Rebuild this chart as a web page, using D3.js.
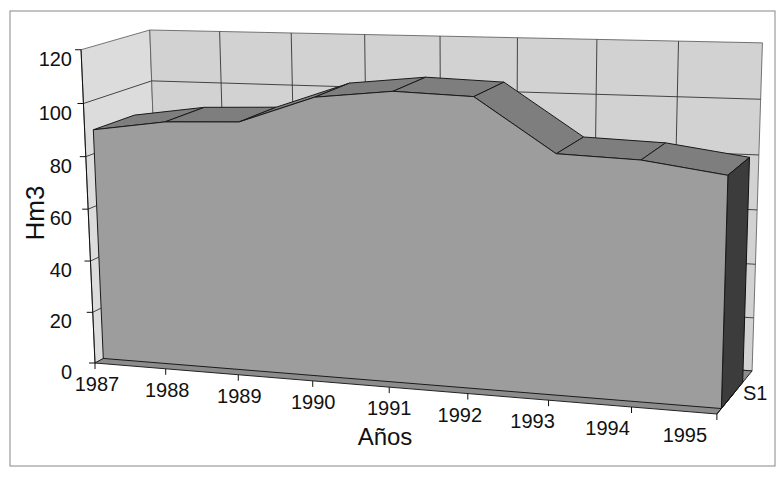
<!DOCTYPE html>
<html>
<head>
<meta charset="utf-8">
<script src="https://cdn.jsdelivr.net/npm/d3@7"></script>
<style>
  body { margin: 0; background: #fff; }
  text { font-family: "Liberation Sans", Arial, sans-serif; fill: #111; }
</style>
</head>
<body>
<script>
// chart data
var years = ["1987", "1988", "1989", "1990", "1991", "1992", "1993", "1994", "1995"];
var s1 = [89, 93, 94, 104, 107, 106, 87, 86, 82];
var valueTicks = [0, 20, 40, 60, 80, 100, 120];
var seriesName = "S1";

var width = 778, height = 477;

var svg = d3.select("body").append("svg")
  .attr("width", width)
  .attr("height", height);

// scales: category -> u (0..1), value -> v (0..1)
var x = d3.scalePoint().domain(years).range([0, 1]);
var y = d3.scaleLinear().domain([0, 120]).range([0, 1]);

// perspective: origin + vanishing points of the three box directions
var O = [95, 363], VX = [-5380, -86], VY = [480, 9000], VZ = [1300, -300];
var A = -0.102, B = -0.035, C = 0.0577;
function project(u, v, w) {
  var d = 1 + A * u + B * v + C * w;
  return [
    (O[0] + A * u * VX[0] + B * v * VY[0] + C * w * VZ[0]) / d,
    (O[1] + A * u * VX[1] + B * v * VY[1] + C * w * VZ[1]) / d
  ];
}
var poly = function(pts) { return d3.line()(pts) + "Z"; };

// series depth slot
var z0 = 0.12, z1 = 0.72;

// frame
svg.append("rect")
  .attr("x", 10).attr("y", 11)
  .attr("width", 765).attr("height", 455)
  .attr("fill", "none")
  .attr("stroke", "#888")
  .attr("stroke-width", 1);

// walls
svg.append("path")
  .attr("d", poly([project(0, 0, 0), project(0, 1, 0), project(0, 1, 1), project(0, 0, 1)]))
  .attr("fill", "#dcdcdc").attr("stroke", "#555").attr("stroke-width", 0.8);
svg.append("path")
  .attr("d", poly([project(0, 0, 1), project(0, 1, 1), project(1, 1, 1), project(1, 0, 1)]))
  .attr("fill", "#d2d2d2").attr("stroke", "#555").attr("stroke-width", 0.8);

// gridlines
var grid = svg.append("g").attr("stroke", "#333").attr("stroke-width", 0.9).attr("fill", "none");
valueTicks.slice(1, -1).forEach(function(t) {
  grid.append("path").attr("d", d3.line()([project(0, y(t), 0), project(0, y(t), 1), project(1, y(t), 1)]));
});
years.slice(1, -1).forEach(function(yr) {
  grid.append("path").attr("d", d3.line()([project(x(yr), 0, 1), project(x(yr), 1, 1)]));
});

// floor
svg.append("path")
  .attr("d", poly([project(0, 0, 0), project(1, 0, 0), project(1, 0, 1), project(0, 0, 1)]))
  .attr("fill", "#8c8c8c").attr("stroke", "#222").attr("stroke-width", 1);

// top surface of the area, left to right
var topG = svg.append("g");
for (var i = 0; i < years.length - 1; i++) {
  var ua = x(years[i]), ub = x(years[i + 1]);
  var va = y(s1[i]), vb = y(s1[i + 1]);
  topG.append("path")
    .attr("d", poly([project(ua, va, z0), project(ub, vb, z0), project(ub, vb, z1), project(ua, va, z1)]))
    .attr("fill", "#7e7e7e").attr("stroke", "#1a1a1a").attr("stroke-width", 1);
}

// right side of the area
var last = years.length - 1;
svg.append("path")
  .attr("d", poly([project(1, 0, z0), project(1, y(s1[last]), z0), project(1, y(s1[last]), z1), project(1, 0, z1)]))
  .attr("fill", "#3c3c3c").attr("stroke", "#111").attr("stroke-width", 1);

// front face
var front = [project(0, 0, z0)];
years.forEach(function(yr, k) { front.push(project(x(yr), y(s1[k]), z0)); });
front.push(project(1, 0, z0));
svg.append("path")
  .attr("d", poly(front))
  .attr("fill", "#9d9d9d").attr("stroke", "#1a1a1a").attr("stroke-width", 1);

// value axis
var axisG = svg.append("g");
axisG.append("path")
  .attr("d", d3.line()([project(0, 0, 0), project(0, 1, 0)]))
  .attr("stroke", "#111").attr("fill", "none");
valueTicks.forEach(function(t) {
  var p = project(0, y(t), 0);
  axisG.append("line")
    .attr("x1", p[0] - 6).attr("x2", p[0]).attr("y1", p[1]).attr("y2", p[1])
    .attr("stroke", "#111");
  axisG.append("text")
    .attr("x", 72).attr("y", p[1] + 16)
    .attr("text-anchor", "end")
    .attr("font-size", 20)
    .text(t);
});

// category axis
var labelShift = d3.scaleLinear().domain([0, 0.5, 1]).range([2, 0, -32]);
years.forEach(function(yr) {
  var p = project(x(yr), 0, 0);
  axisG.append("line")
    .attr("x1", p[0]).attr("x2", p[0]).attr("y1", p[1]).attr("y2", p[1] + 6)
    .attr("stroke", "#111");
  axisG.append("text")
    .attr("x", p[0] + labelShift(x(yr))).attr("y", p[1] + 28)
    .attr("text-anchor", "middle")
    .attr("font-size", 20)
    .text(yr);
});

// depth axis with series name
var d0 = project(1, 0, 0), d1 = project(1, 0, 0.5);
axisG.append("path").attr("d", d3.line()([d0, d1])).attr("stroke", "#111").attr("fill", "none");
axisG.append("text")
  .attr("x", d1[0] + 8).attr("y", d1[1] + 8)
  .attr("font-size", 20)
  .text(seriesName);

// titles
svg.append("text")
  .attr("x", 385).attr("y", 445)
  .attr("text-anchor", "middle")
  .attr("font-size", 24)
  .text("Años");
svg.append("text")
  .attr("transform", "translate(44,213) rotate(-90)")
  .attr("text-anchor", "middle")
  .attr("font-size", 26)
  .text("Hm3");
</script>
</body>
</html>
